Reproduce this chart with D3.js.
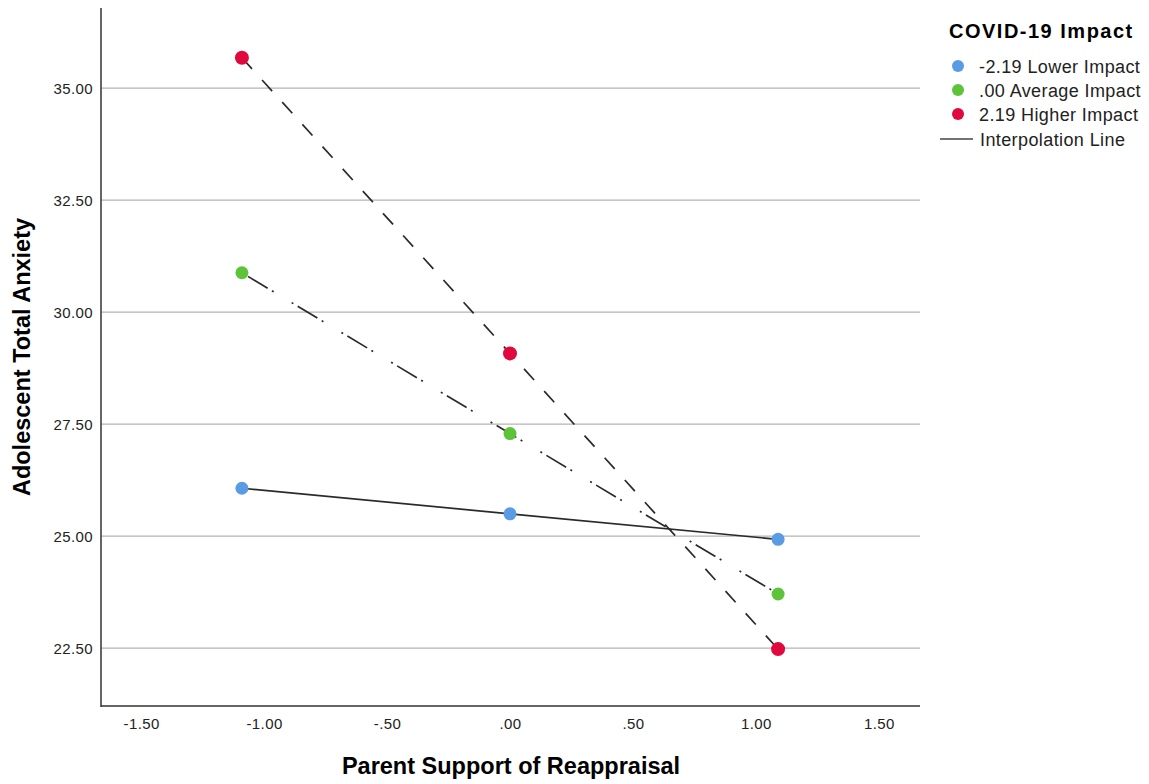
<!DOCTYPE html>
<html>
<head>
<meta charset="utf-8">
<script src="https://d3js.org/d3.v7.min.js"></script>
<style>
  body { margin: 0; background: #fff; }
  text { font-family: "Liberation Sans", Arial, sans-serif; }
</style>
</head>
<body>
<div id="chart"></div>
<script>
// data
var xValues = [-1.09, 0, 1.09];
var groups = ["-2.19 Lower Impact", ".00 Average Impact", "2.19 Higher Impact"];
var lowerImpact = [26.07, 25.50, 24.93];
var averageImpact = [30.88, 27.29, 23.71];
var higherImpact = [35.68, 29.08, 22.48];
var xTicks = [-1.5, -1.0, -0.5, 0, 0.5, 1.0, 1.5];
var yTicks = [22.5, 25.0, 27.5, 30.0, 32.5, 35.0];

var colors = ["#5a9be6", "#5dc43a", "#e0083c"];
var dashes = [null, "2,5,23,5,2,21", "15,15"];
var radii = [6.5, 6.5, 7];

var width = 1149,
    height = 784,
    plotLeft = 101, plotRight = 920, plotTop = 8, plotBottom = 706;

var svg = d3.select("#chart").append("svg")
    .attr("width", width)
    .attr("height", height);

var x = d3.scaleLinear().domain([-1.663, 1.667]).range([plotLeft, plotRight]);
var y = d3.scaleLinear().domain([21.21, 36.79]).range([plotBottom, plotTop]);

// SPSS style labels: no leading zero
var fmt = function(d) {
    var s = d3.format(".2f")(Math.abs(d)).replace(/^0/, "");
    return (d < 0 ? "-" : "") + s;
};

/* gridlines */
svg.append("g")
    .selectAll("line")
    .data(yTicks)
    .enter().append("line")
        .attr("x1", plotLeft).attr("x2", plotRight)
        .attr("y1", function(d) { return y(d); })
        .attr("y2", function(d) { return y(d); })
        .attr("stroke", "#b4b4b4")
        .attr("stroke-width", 1.2);

/* axes */
var yAxis = svg.append("g")
    .attr("transform", "translate(" + plotLeft + ",0)")
    .call(d3.axisLeft(y).tickValues(yTicks).tickFormat(fmt).tickSize(0).tickPadding(8));
var xAxis = svg.append("g")
    .attr("transform", "translate(0," + plotBottom + ")")
    .call(d3.axisBottom(x).tickValues(xTicks).tickFormat(fmt).tickSize(0).tickPadding(12));

[xAxis, yAxis].forEach(function(a) {
    a.select(".domain").remove();
    a.selectAll("text")
        .attr("font-size", 15)
        .attr("letter-spacing", 0.4)
        .attr("fill", "#222")
        .style("font-family", "Liberation Sans, Arial, sans-serif");
});

svg.append("line")
    .attr("x1", plotLeft).attr("x2", plotLeft).attr("y1", plotTop).attr("y2", plotBottom + 1)
    .attr("stroke", "#333").attr("stroke-width", 1.5);
svg.append("line")
    .attr("x1", plotLeft).attr("x2", plotRight).attr("y1", plotBottom).attr("y2", plotBottom)
    .attr("stroke", "#333").attr("stroke-width", 1.5);

/* axis titles */
svg.append("text")
    .attr("x", 511)
    .attr("y", 774)
    .attr("text-anchor", "middle")
    .attr("font-size", 23.5)
    .attr("font-weight", "bold")
    .text("Parent Support of Reappraisal");

svg.append("text")
    .attr("transform", "translate(30," + ((plotTop + plotBottom) / 2) + ") rotate(-90)")
    .attr("text-anchor", "middle")
    .attr("font-size", 23.5)
    .attr("font-weight", "bold")
    .text("Adolescent Total Anxiety");

/* lines and points */
var series = [lowerImpact, averageImpact, higherImpact];
var line = d3.line()
    .x(function(d, i) { return x(xValues[i]); })
    .y(function(d) { return y(d); });

svg.append("g")
    .selectAll("path")
    .data(series)
    .enter().append("path")
        .attr("d", line)
        .attr("fill", "none")
        .attr("stroke", "#2a2a2a")
        .attr("stroke-width", 1.7)
        .attr("stroke-dasharray", function(d, i) { return dashes[i]; });

series.forEach(function(s, k) {
    svg.append("g")
        .selectAll("circle")
        .data(s)
        .enter().append("circle")
            .attr("cx", function(d, i) { return x(xValues[i]); })
            .attr("cy", function(d) { return y(d); })
            .attr("r", radii[k])
            .attr("fill", colors[k]);
});

/* legend */
var legend = svg.append("g").attr("transform", "translate(949,0)");
legend.append("text")
    .attr("x", 0).attr("y", 38)
    .attr("font-size", 20)
    .attr("letter-spacing", 1.5)
    .attr("font-weight", "bold")
    .text("COVID-19 Impact");

var items = legend.selectAll("g.item")
    .data(groups)
    .enter().append("g")
        .attr("class", "item")
        .attr("transform", function(d, i) { return "translate(0," + (66 + i * 24) + ")"; });
items.append("circle")
    .attr("cx", 9).attr("cy", 0).attr("r", 6)
    .attr("fill", function(d, i) { return colors[i]; });
items.append("text")
    .attr("x", 30).attr("y", 7)
    .attr("font-size", 18)
    .attr("letter-spacing", 0.4)
    .attr("fill", "#222")
    .text(function(d) { return d; });

legend.append("line")
    .attr("x1", -9).attr("x2", 24).attr("y1", 139).attr("y2", 139)
    .attr("stroke", "#444").attr("stroke-width", 1.5);
legend.append("text")
    .attr("x", 31).attr("y", 146)
    .attr("font-size", 18)
    .attr("letter-spacing", 0.4)
    .attr("fill", "#222")
    .text("Interpolation Line");
</script>
</body>
</html>
